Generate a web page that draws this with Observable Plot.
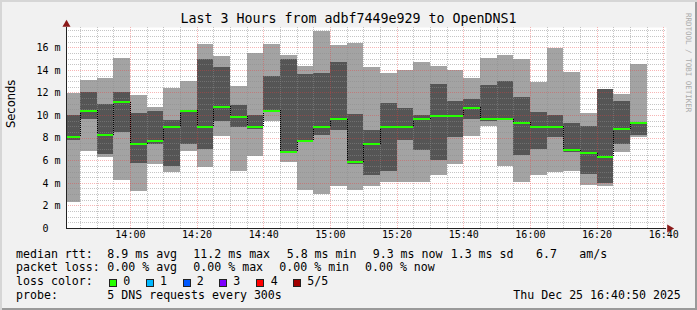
<!DOCTYPE html>
<html><head><meta charset="utf-8">
<script src="https://cdn.jsdelivr.net/npm/d3@7"></script>
<script src="https://cdn.jsdelivr.net/npm/@observablehq/plot@0.6"></script>
<style>
html,body{margin:0;padding:0;background:#fff}
#wrap{position:relative;width:697px;height:310px;background:#f1f1f1;overflow:hidden;
  box-shadow: inset 2px 2px 0 #d6d6d6, inset -2px -2px 0 #9a9a9a;
  font-family:"DejaVu Sans Mono",monospace;color:#000}
#wrap svg{position:absolute;left:0;top:0}
.t{position:absolute;white-space:pre;font-size:11.6px;line-height:1}
.sq{position:absolute;width:6px;height:6px;border:1px solid #222}
</style></head><body><div id="wrap"></div>
<script>
// ---- data (ms) ----
const times = ["13:40","13:45","13:50","13:55","14:00","14:05","14:10","14:15","14:20","14:25","14:30","14:35",
  "14:40","14:45","14:50","14:55","15:00","15:05","15:10","15:15","15:20","15:25","15:30","15:35",
  "15:40","15:45","15:50","15:55","16:00","16:05","16:10","16:15","16:20","16:25","16:30"];
const maxRtt = [11.94,13.12,13.29,15.06,11.82,10.70,12.44,13.03,16.29,15.24,12.59,15.47,
  16.29,15.32,14.35,17.43,16.21,16.35,14.29,13.76,14.00,14.68,14.35,14.00,
  13.29,15.06,15.32,14.97,12.94,15.97,13.82,10.21,12.32,11.88,14.53];
const upperRtt = [10.03,12.03,11.00,12.06,10.20,10.38,9.59,10.47,14.97,14.29,10.91,10.03,
  13.50,14.97,13.65,13.76,14.70,10.12,8.71,11.06,10.62,9.97,12.76,11.29,
  11.44,12.65,13.03,11.59,10.26,10.03,9.32,9.06,12.30,11.26,9.38];
const medianRtt = [8.12,10.41,8.26,11.18,7.44,7.76,9.00,10.41,9.00,10.79,9.91,9.00,
  10.41,6.79,7.79,9.03,9.68,5.85,7.47,9.00,9.00,9.68,10.00,10.00,
  10.71,9.68,9.68,9.38,9.03,9.03,6.94,6.65,6.35,8.79,9.35];
const lowerRtt = [7.76,9.68,6.59,8.47,5.79,7.41,5.53,7.47,7.03,9.50,8.91,8.76,
  10.30,6.65,7.70,8.26,8.71,5.71,4.70,5.03,7.76,6.88,6.00,8.06,
  9.68,9.44,9.59,6.50,7.03,8.03,6.71,4.74,4.00,7.47,8.21];
const minRtt = [2.29,6.85,6.26,4.29,3.32,5.71,4.94,6.79,5.38,8.18,5.09,6.41,
  9.44,5.82,3.35,2.97,3.71,3.35,3.71,4.03,4.06,4.06,4.65,5.71,
  8.12,9.00,5.53,4.06,4.65,4.97,5.03,3.79,3.71,6.76,8.03];
const xTickLabels = ["14:00","14:20","14:40","15:00","15:20","15:40","16:00","16:20","16:40"];
const yTickValues = [0,2,4,6,8,10,12,14,16];
const yTickLabels = ["0\u00a0\u00a0","2 m","4 m","6 m","8 m","10 m","12 m","14 m","16 m"];
const lossColors = ["#26ff00","#00b8ff","#0059ff","#7e00ff","#ff0000","#a10000"];
const lossLabels = ["0","1","2","3","4","5/5"];

const parse = s => new Date(`2025-12-25T${s}:00Z`);
const step = 5 * 60000;
const rows = times.map((t, i) => ({
  x1: parse(t), x2: new Date(+parse(t) + step),
  min: minRtt[i], lo: lowerRtt[i], med: medianRtt[i], hi: upperRtt[i], max: maxRtt[i]
}));
const connectors = rows.slice(0, -1).map((r, i) => ({x: r.x2, y1: r.med, y2: rows[i + 1].med}));
const start = new Date("2025-12-25T13:40:50Z"), end = new Date("2025-12-25T16:40:50Z");
const minorX = d3.utcMinute.every(5).range(start, end).filter(d => d.getUTCMinutes() % 20 !== 0);
const majorX = d3.utcMinute.every(20).range(start, end);
const yTop = 17.8;
const minorY = d3.range(0.5, yTop, 0.5).filter(v => v % 2 !== 0);
const majorY = d3.range(2, yTop, 2);
const gridGray = "rgba(140,140,140,0.5)", gridRed = "rgba(235,60,60,0.38)";

const chart = Plot.plot({
  width: 697, height: 310,
  marginLeft: 66, marginRight: 31, marginTop: 27, marginBottom: 82,
  x: {type: "utc", domain: [start, end], axis: null},
  y: {domain: [0, yTop], axis: null},
  style: {background: "transparent", fontFamily: "DejaVu Sans Mono", overflow: "visible"},
  marks: [
    Plot.frame({fill: "white", stroke: "none"}),
    Plot.rect(rows, {x1: "x1", x2: "x2", y1: "min", y2: "max", fill: "#a3a3a3", inset: 0, clip: true, shapeRendering: "crispEdges"}),
    Plot.rect(rows, {x1: "x1", x2: "x2", y1: "lo", y2: "hi", fill: "#555555", inset: 0, clip: true, shapeRendering: "crispEdges"}),
    Plot.ruleY(minorY, {stroke: gridGray, strokeDasharray: "1,1", shapeRendering: "crispEdges"}),
    Plot.ruleX(minorX, {stroke: gridGray, strokeDasharray: "1,1", shapeRendering: "crispEdges"}),
    Plot.ruleY(majorY, {stroke: gridRed, strokeDasharray: "1,1", shapeRendering: "crispEdges"}),
    Plot.ruleX(majorX, {stroke: gridRed, strokeDasharray: "1,1", shapeRendering: "crispEdges"}),
    Plot.ruleX(connectors, {x: "x", y1: "y1", y2: "y2", stroke: "#000", strokeDasharray: "1,1", shapeRendering: "crispEdges"}),
    Plot.ruleY(rows, {x1: "x1", x2: "x2", y: "med", stroke: lossColors[0], strokeWidth: 2, clip: true, shapeRendering: "crispEdges"}),
    // axes
    Plot.ruleY([0], {stroke: "#222", shapeRendering: "crispEdges"}),
    Plot.ruleX([start], {y1: 0, y2: yTop, stroke: "#222", shapeRendering: "crispEdges"}),
    Plot.dot([end], {x: d => d, y: () => 0, symbol: "triangle", r: 3, rotate: 90, dx: 3, fill: "#8b1a1a", stroke: "none"}),
    Plot.dot([yTop], {x: () => start, y: d => d, symbol: "triangle", r: 3, dy: -3, fill: "#8b1a1a", stroke: "none"}),
    // tick labels
    Plot.text(yTickValues, {y: d => d, text: (d, i) => yTickLabels[i], frameAnchor: "left", textAnchor: "end", dx: -6, fontSize: 10, fill: "#000"}),
    Plot.text(xTickLabels, {x: d => parse(d), text: d => d, frameAnchor: "bottom", dy: 9.5, fontSize: 10, fill: "#000"}),
    Plot.text(["Seconds"], {frameAnchor: "left", dx: -55.5, rotate: -90, fontSize: 11.5, fontFamily: "DejaVu Sans", fill: "#000"})
  ]
});
const wrap = document.getElementById("wrap");
wrap.appendChild(chart);

function addText(str, x, baseline, size = 11.6, extra = {}) {
  const el = document.createElement("div");
  el.className = "t";
  el.textContent = str;
  el.style.left = x + "px";
  el.style.top = (baseline - 0.846 * size) + "px";
  el.style.fontSize = size + "px";
  Object.assign(el.style, extra);
  wrap.appendChild(el);
  return el;
}
// title
addText("Last 3 Hours from adbf7449e929 to OpenDNS1", 0, 23.5, 13.3, {width: "697px", textAlign: "center"});
// watermark
addText("RRDTOOL / TOBI OETIKER", 684.5, 0, 7.5, {writingMode: "vertical-rl", top: "13px", color: "#ababab"});
// legend
addText("median rtt:", 16, 258.5);
addText("8.9 ms avg", 107.3, 258.5);
addText("11.2 ms max", 193.3, 258.5);
addText("5.8 ms min", 286.7, 258.5);
addText("9.3 ms now", 372.7, 258.5);
addText("1.3 ms sd", 450.7, 258.5);
addText("6.7", 536, 258.5);
addText("am/s", 579.3, 258.5);
addText("packet loss:", 16, 272);
addText("0.00 % avg", 107.3, 272);
addText("0.00 % max", 193.3, 272);
addText("0.00 % min", 279.3, 272);
addText("0.00 % now", 365, 272);
addText("loss color:", 16, 286);
const sqX = [108.7, 145.7, 182.7, 219.3, 256, 292.7];
const lbX = [123.3, 160, 196.7, 233.3, 270.7, 307.3];
lossColors.forEach((c, i) => {
  const s = document.createElement("div");
  s.className = "sq";
  s.style.left = sqX[i] + "px";
  s.style.top = "278.5px";
  s.style.background = c;
  wrap.appendChild(s);
  addText(lossLabels[i], lbX[i], 286);
});
addText("probe:", 16, 299.5);
addText("5 DNS requests every 300s", 107.3, 299.5);
addText("Thu Dec 25 16:40:50 2025", 513.3, 299.5);
</script></body></html>
